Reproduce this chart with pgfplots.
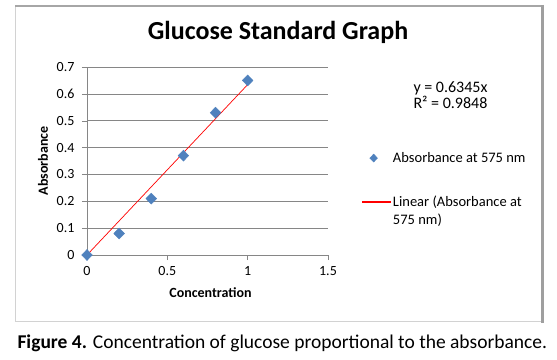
\documentclass[border=0pt]{standalone}
\usepackage{fontspec}
\setmainfont{Carlito}
\usepackage{pgfplots}
\pgfplotsset{compat=1.18}
\definecolor{mblue}{HTML}{4F81BD}
\definecolor{gridgray}{HTML}{868686}
\definecolor{trendred}{HTML}{FF0000}
\begin{document}
\begin{tikzpicture}[x=1pt,y=1pt]
\path (0,0) rectangle (557,359);
\draw[gray!35, line width=1pt] (15,37.5) -- (15,353);
\draw[gray!35, line width=1.2pt] (15,37.5) -- (542,37.5);
\draw[gray!70, line width=1.2pt] (15,353) -- (542,353);
\draw[gray!75, line width=3pt] (542,354) -- (542,36.5);
\node[font=\fontsize{26}{30}\selectfont\bfseries] at (278,327) {Glucose Standard Graph};
\begin{axis}[
  at={(87pt,104pt)}, anchor=south west, scale only axis,
  width=241pt, height=188pt,
  xmin=0, xmax=1.5, ymin=0, ymax=0.7,
  xtick={0,0.5,1,1.5}, ytick={0,0.1,0.2,0.3,0.4,0.5,0.6,0.7},
  axis x line*=bottom, axis y line*=left,
  x axis line style={-, draw=gridgray}, y axis line style={-, draw=gridgray},
  tick align=outside, major tick length=5pt,
  tick style={draw=gridgray, thin},
  ymajorgrids, grid style={draw=gridgray, line width=0.7pt},
  /pgf/number format/assume math mode=true,
  ticklabel style={font=\fontsize{14}{16}\selectfont},
  yticklabel style={xshift=-4pt},
  xticklabel style={yshift=-3pt},
  xlabel={Concentration}, ylabel={Absorbance},
  every axis x label/.style={at={(axis description cs:0.5125,-0.2)}, anchor=center, font=\fontsize{14}{16}\selectfont\bfseries},
  every axis y label/.style={at={(axis description cs:-0.183,0.5)}, anchor=center, rotate=90, font=\fontsize{14}{16}\selectfont\bfseries},
  clip=false,
  legend style={draw=none, fill=none, at={(1.129,0.57)}, anchor=north west,
    font=\fontsize{14.5}{18}\selectfont, row sep=28pt, cells={anchor=base west, align=left}},
]
\addplot[only marks, mark=diamond*, mark size=5.5pt, mark options={draw=mblue, fill=mblue, xscale=1.3},
  legend image code/.code={\draw[mark size=4pt] plot coordinates {(11pt,4pt)};}]
  coordinates {(0,0) (0.2,0.08) (0.4,0.21) (0.6,0.37) (0.8,0.53) (1,0.65)};
\addlegendentry{Absorbance at 575 nm}
\addplot[color=trendred, line width=0.7pt, no marks,
  legend image code/.code={\fill[trendred] (0pt,21.5pt) rectangle (28pt,22.5pt);}]
  coordinates {(0,0) (1,0.6345)};
\addlegendentry{Linear (Absorbance at\\575 nm)}
\end{axis}
\node[anchor=west, align=left, font=\fontsize{16}{16}\selectfont] at (410,264) {y = 0.6345x\\R² = 0.9848};
\node[anchor=west, font=\fontsize{19.5}{22}\selectfont] at (14,16) {\textbf{Figure 4.} Concentration of glucose proportional to the absorbance.};
\end{tikzpicture}
\end{document}
